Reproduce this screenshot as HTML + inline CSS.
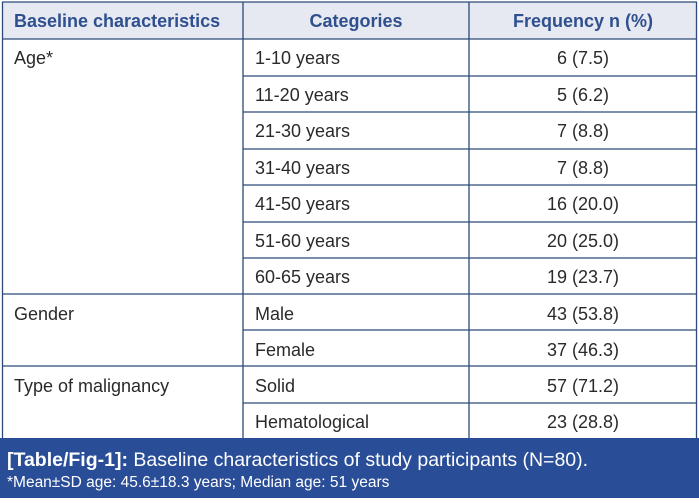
<!DOCTYPE html>
<html><head><meta charset="utf-8"><style>
body{margin:0;width:699px;height:498px;background:#fff;overflow:hidden}
svg text{font-family:"Liberation Sans",sans-serif}
</style></head><body>
<svg width="699" height="498" xmlns="http://www.w3.org/2000/svg">
<rect x="2" y="2" width="695" height="37" fill="#e6e9f1"/>
<g stroke="#2c4a78" stroke-width="1.3" fill="none">
<line x1="2" y1="2" x2="697" y2="2"/>
<line x1="2" y1="39" x2="697" y2="39"/>
<line x1="2.5" y1="2" x2="2.5" y2="439"/>
<line x1="243" y1="2" x2="243" y2="439"/>
<line x1="469" y1="2" x2="469" y2="439"/>
<line x1="696.5" y1="2" x2="696.5" y2="439"/>
<line x1="243" y1="76" x2="697" y2="76"/>
<line x1="243" y1="112" x2="697" y2="112"/>
<line x1="243" y1="149" x2="697" y2="149"/>
<line x1="243" y1="185" x2="697" y2="185"/>
<line x1="243" y1="222" x2="697" y2="222"/>
<line x1="243" y1="258" x2="697" y2="258"/>
<line x1="2" y1="294" x2="697" y2="294"/>
<line x1="243" y1="330" x2="697" y2="330"/>
<line x1="2" y1="366" x2="697" y2="366"/>
<line x1="243" y1="403" x2="697" y2="403"/>
</g>
<g font-size="18" font-weight="bold" fill="#2f4f8e">
<text x="14" y="27">Baseline characteristics</text>
<text x="356" y="27" text-anchor="middle">Categories</text>
<text x="583" y="27" text-anchor="middle">Frequency n (%)</text>
</g>
<g font-size="18" fill="#2a2a2a">
<text x="14" y="64">Age*</text>
<text x="14" y="320">Gender</text>
<text x="14" y="392">Type of malignancy</text>
<text x="255" y="64">1-10 years</text>
<text x="255" y="101">11-20 years</text>
<text x="255" y="137">21-30 years</text>
<text x="255" y="174">31-40 years</text>
<text x="255" y="210">41-50 years</text>
<text x="255" y="247">51-60 years</text>
<text x="255" y="283">60-65 years</text>
<text x="255" y="320">Male</text>
<text x="255" y="356">Female</text>
<text x="255" y="392">Solid</text>
<text x="255" y="428">Hematological</text>
<g text-anchor="middle">
<text x="583" y="64">6 (7.5)</text>
<text x="583" y="101">5 (6.2)</text>
<text x="583" y="137">7 (8.8)</text>
<text x="583" y="174">7 (8.8)</text>
<text x="583" y="210">16 (20.0)</text>
<text x="583" y="247">20 (25.0)</text>
<text x="583" y="283">19 (23.7)</text>
<text x="583" y="320">43 (53.8)</text>
<text x="583" y="356">37 (46.3)</text>
<text x="583" y="392">57 (71.2)</text>
<text x="583" y="428">23 (28.8)</text>
</g></g>
<rect x="0" y="438" width="699" height="60" fill="#2a4d98"/>
<text x="7" y="466" font-size="19.5" fill="#fff"><tspan font-weight="bold">[Table/Fig-1]:</tspan> Baseline characteristics of study participants (N=80).</text>
<text x="7" y="487" font-size="15.5" fill="#fff">*Mean±SD age: 45.6±18.3 years; Median age: 51 years</text>
</svg>
</body></html>
